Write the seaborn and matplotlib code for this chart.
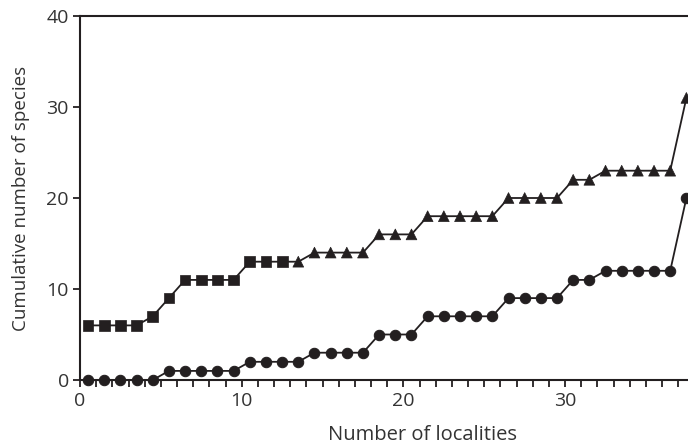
import matplotlib
matplotlib.use("Agg")
import matplotlib.pyplot as plt
import seaborn as sns
import pandas as pd
from matplotlib.ticker import MultipleLocator

# Data
localities = [0.5, 1.5, 2.5, 3.5, 4.5, 5.5, 6.5, 7.5, 8.5, 9.5,
              10.5, 11.5, 12.5, 13.5, 14.5, 15.5, 16.5, 17.5, 18.5, 19.5,
              20.5, 21.5, 22.5, 23.5, 24.5, 25.5, 26.5, 27.5, 28.5, 29.5,
              30.5, 31.5, 32.5, 33.5, 34.5, 35.5, 36.5, 37.5]
lower = [0, 0, 0, 0, 0, 1, 1, 1, 1, 1,
         2, 2, 2, 2, 3, 3, 3, 3, 5, 5,
         5, 7, 7, 7, 7, 7, 9, 9, 9, 9,
         11, 11, 12, 12, 12, 12, 12, 20]
upper = [6, 6, 6, 6, 7, 9, 11, 11, 11, 11,
         13, 13, 13, 13, 14, 14, 14, 14, 16, 16,
         16, 18, 18, 18, 18, 18, 20, 20, 20, 20,
         22, 22, 23, 23, 23, 23, 23, 31]
upper_kind = ["square"] * 13 + ["triangle"] * 25
x_ticks = [0, 10, 20, 30]
y_ticks = [0, 10, 20, 30, 40]

sns.set_style("ticks")
plt.rcParams['font.family'] = ['Open Sans', 'DejaVu Sans']

ink = "#231f20"
txt = "#333333"

df_low = pd.DataFrame({"x": localities, "y": lower})
df_up = pd.DataFrame({"x": localities, "y": upper, "kind": upper_kind})

fig = plt.figure(figsize=(6.88, 4.46), dpi=100)
W, H = 688, 446
left_px, right_px, top_px, bottom_px = 80, 688, 16, 380
ax = fig.add_axes([left_px / W, 1 - bottom_px / H,
                   (right_px - left_px) / W, (bottom_px - top_px) / H])

sns.lineplot(data=df_low, x="x", y="y", ax=ax, color=ink, lw=1.3,
             marker="o", markersize=7.5, markeredgecolor=ink,
             markerfacecolor=ink, clip_on=False, zorder=3)
sns.lineplot(data=df_up, x="x", y="y", ax=ax, color=ink, lw=1.3,
             clip_on=False, zorder=3)
sns.scatterplot(data=df_up, x="x", y="y", style="kind",
                markers={"square": "s", "triangle": "^"},
                s=60, color=ink, edgecolor=ink, linewidth=0.5,
                ax=ax, legend=False, clip_on=False, zorder=4)

ax.set_xlim(0, 37.6)
ax.set_ylim(0, 40)
ax.set_xticks(x_ticks)
ax.xaxis.set_minor_locator(MultipleLocator(1))
ax.set_yticks(y_ticks)

for s in ["left", "bottom", "top"]:
    ax.spines[s].set_linewidth(1.5)
    ax.spines[s].set_color(ink)
ax.spines["right"].set_visible(False)

ax.tick_params(axis="both", which="major", direction="out", length=5,
               width=1.3, color=ink, labelsize=14, labelcolor=txt, pad=3)
ax.tick_params(axis="x", which="minor", direction="out", length=5,
               width=1.3, color=ink)
ax.tick_params(axis="x", which="major", pad=4)

ax.set_xlabel("Number of localities", fontsize=14.5, color=txt)
ax.xaxis.set_label_coords((423 - left_px) / (right_px - left_px),
                          -(425 - bottom_px) / (bottom_px - top_px))
ax.set_ylabel("Cumulative number of species", fontsize=13.5, color=txt,
              labelpad=12)

fig.savefig("out.png", dpi=100)
